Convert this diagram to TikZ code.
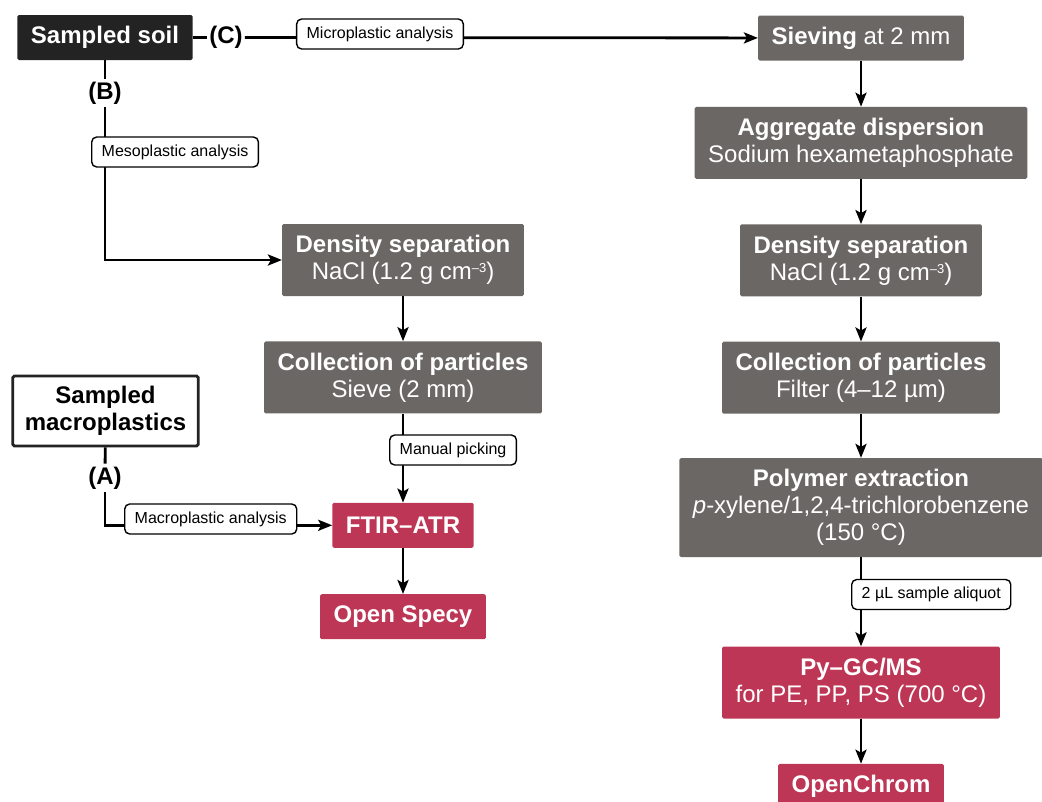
\documentclass[tikz,border=0pt]{standalone}
\usepackage{fontspec}
\setmainfont{Liberation Sans}
\usepackage{tikz}
\usetikzlibrary{positioning,arrows.meta}
\definecolor{palGray}{HTML}{6B6764}
\definecolor{palRed}{HTML}{BE3655}
\definecolor{palBlack}{HTML}{232323}
\newcommand{\boxfont}{\fontsize{24}{27}\selectfont}
\newcommand{\tagfont}{\fontsize{16}{19}\selectfont}
\newcommand{\cubed}{\raisebox{7pt}{\fontsize{13}{13}\selectfont –3}}
\tikzset{
  stepbox/.style={rectangle, fill=palGray, text=white, font=\boxfont,
                  align=center, inner xsep=13.5pt, inner ysep=0pt,
                  minimum height=45pt, rounded corners=1.5pt},
  twoline/.style={minimum height=72pt},
  redbox/.style={stepbox, fill=palRed},
  tagnode/.style={draw, rounded corners=5pt, fill=white, font=\tagfont,
                  inner xsep=10pt, inner ysep=0pt, minimum height=30pt,
                  line width=1.4pt},
  letternode/.style={font=\boxfont\bfseries, inner xsep=2pt, inner ysep=3pt},
  flowline/.style={line width=2.8pt},
  flowarrow/.style={flowline, -{Stealth[length=14pt, width=11pt, inset=3pt]}},
}

\begin{document}
\begin{tikzpicture}[x=1pt, y=-1pt, node distance=45pt]
\useasboundingbox (0,0) rectangle (1042,801);

%% Sources
\node[stepbox, fill=palBlack, font=\boxfont\bfseries] (soil) at (105,37.5) {Sampled soil};
\node[stepbox, twoline, fill=white, text=black, draw=palBlack, line width=2.8pt,
      font=\boxfont\bfseries, minimum height=70pt, inner xsep=12pt] (macro) at (105.5,411) {Sampled\\macroplastics};
\node[letternode] (labC) at (226,37.5) {(C)};
\node[letternode] (labB) at (105,93) {(B)};
\node[letternode] (labA) at (105,478) {(A)};

%% Microplastic track
\node[stepbox] (sieve) at (861,38) {\textbf{Sieving} at 2 mm};
\node[stepbox, twoline, below=46pt of sieve] (aggr) {\textbf{Aggregate dispersion}\\Sodium hexametaphosphate};
\node[stepbox, twoline, below=of aggr] (densR) {\textbf{Density separation}\\NaCl (1.2 g cm\cubed)};
\node[stepbox, twoline, below=of densR] (collR) {\textbf{Collection of particles}\\Filter (4–12 µm)};
\node[stepbox, minimum height=99pt, below=44pt of collR] (polyx) {\textbf{Polymer extraction}\\\textit{p}-xylene/1,2,4-trichlorobenzene\\(150 °C)};
\node[redbox, twoline, below=89pt of polyx] (pygc) {\textbf{Py–GC/MS}\\for PE, PP, PS (700 °C)};
\node[redbox, below=of pygc] (ochrom) {\textbf{OpenChrom}};

%% Mesoplastic track
\node[stepbox, twoline] (densL) at (403,260) {\textbf{Density separation}\\NaCl (1.2 g cm\cubed)};
\node[stepbox, twoline, below=of densL] (collL) {\textbf{Collection of particles}\\Sieve (2 mm)};
\node[redbox, below=89pt of collL] (ftir) {\textbf{FTIR–ATR}};
\node[redbox, below=46pt of ftir] (ospecy) {\textbf{Open Specy}};

%% Connectors
\draw[flowline] (soil) -- (labC);
\draw[flowarrow] (labC) -- (sieve);
\draw[flowline] (soil) -- (labB);
\draw[flowarrow] (labB) |- (densL);
\draw[flowline] (macro) -- (labA);
\draw[flowarrow] (labA) |- (ftir);
\draw[flowarrow] (sieve) -- (aggr);
\draw[flowarrow] (aggr) -- (densR);
\draw[flowarrow] (densR) -- (collR);
\draw[flowarrow] (collR) -- (polyx);
\draw[flowarrow] (polyx) -- (pygc);
\draw[flowarrow] (pygc) -- (ochrom);
\draw[flowarrow] (densL) -- (collL);
\draw[flowarrow] (collL) -- (ftir);
\draw[flowarrow] (ftir) -- (ospecy);

%% Tags
\node[tagnode] (tagMicro) at (380,34) {Microplastic analysis};
\node[tagnode, anchor=west] (tagMeso) at (91,152) {Mesoplastic analysis};
\node[tagnode, anchor=west] (tagMacro) at (124,519) {Macroplastic analysis};
\node[tagnode, anchor=west] (tagPick) at (389,450) {Manual picking};
\node[tagnode, anchor=west] (tagAliquot) at (851,594.5) {2 µL sample aliquot};
\end{tikzpicture}
\end{document}
